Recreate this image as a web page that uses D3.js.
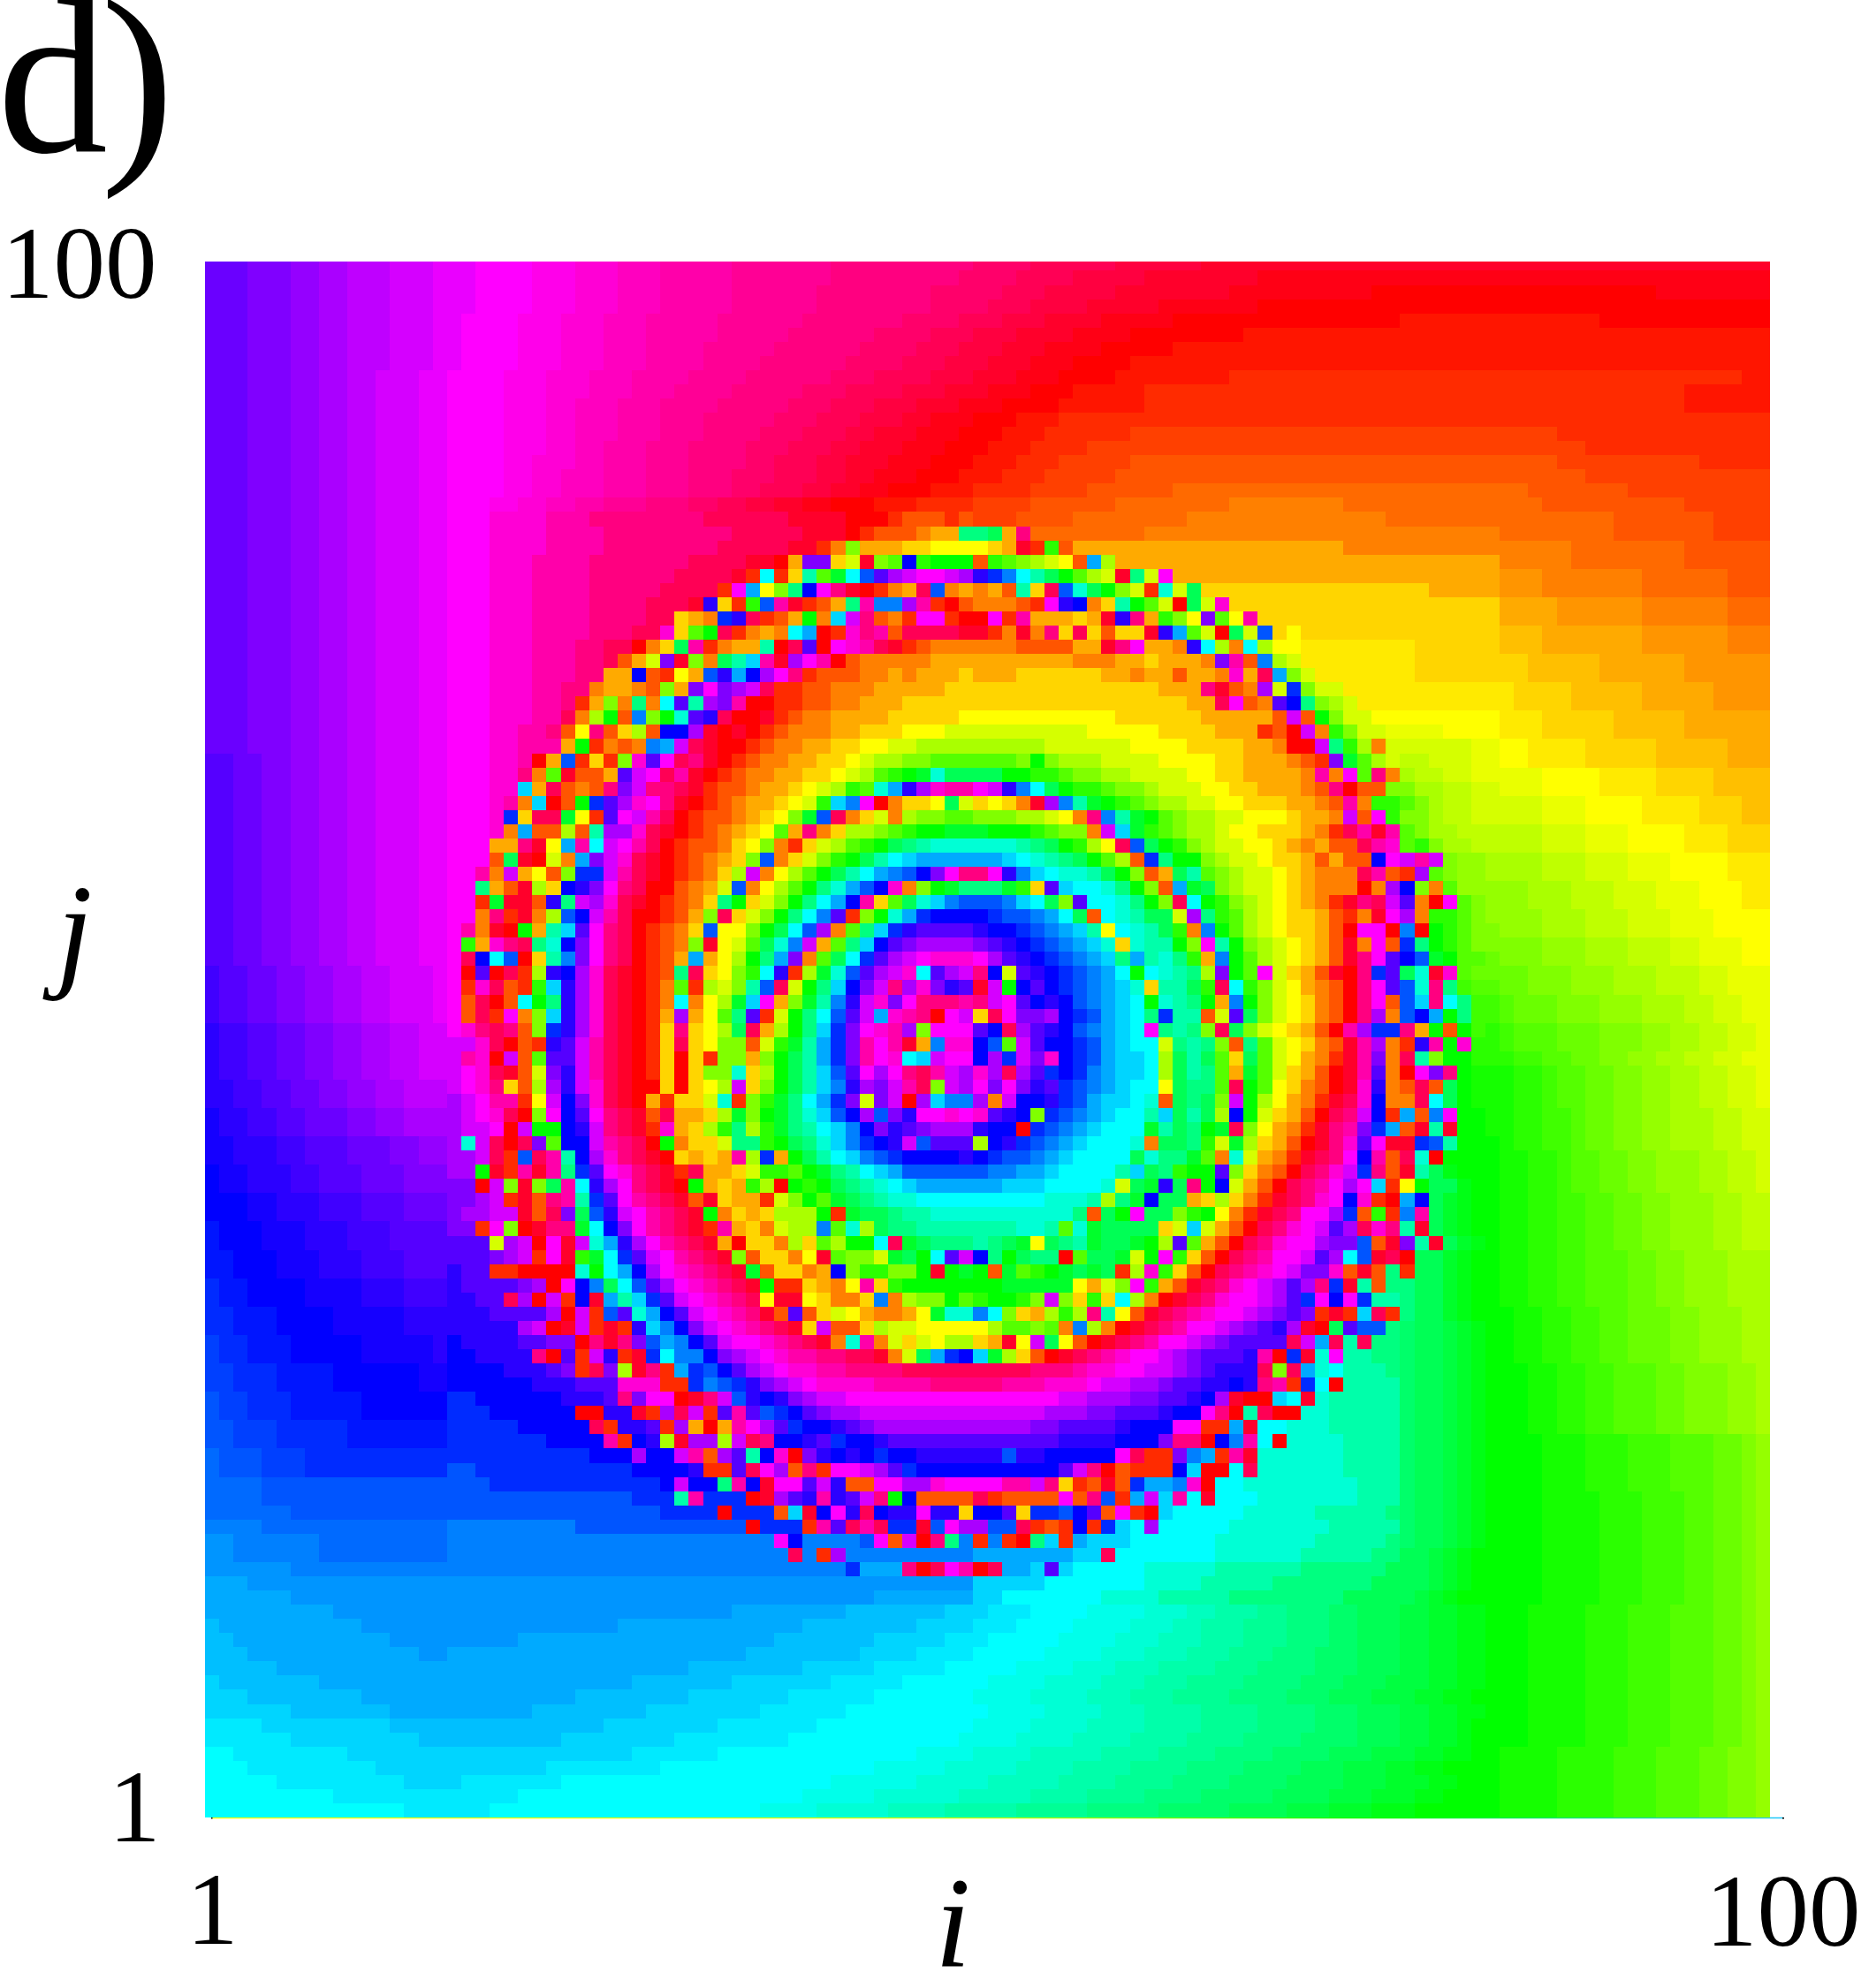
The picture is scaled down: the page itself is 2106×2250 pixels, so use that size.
<!DOCTYPE html>
<html><head><meta charset="utf-8">
<script src="https://cdnjs.cloudflare.com/ajax/libs/d3/7.8.5/d3.min.js"></script>
<style>html,body{margin:0;padding:0;background:#fff}svg{display:block}text{font-family:"Liberation Serif",serif;fill:#000}</style>
</head><body><svg id="c" width="2106" height="2250"></svg>
<script>
const panelLabel = "d)";
const xTickLabels = ["1","100"];
const yTickLabels = ["1","100"];
const xName = "i", yName = "j";
// Hue alphabet: position in this string x 5 degrees.
const hueAlphabet = "0A1B2C3D4E5F6G7H8I9JaKbLcMdNeOfPgQhRiSjTkUlVmWnXoYpZq!r@s#t$u%v^w&x(y)z+";
// Phase per cell, row by row from the top; "c*n" repeats c, sections are separated by spaces.
const hueRows = [
"!*3,r*3,@*2,s*2,#*3,t*3,$*3,u*4,%*3,v*3,^*3,w*5,&*7,x*10,(*4,y*6,)*6,z*40",
"!*3,r*3,@*2,s*2,#*3,t*3,$*3,u*4,%*3,v*3,^*3,w*5,&*7,x*9,(*4,y*4,)*5,z*8,+*36",
"!*3,r*3,@*2,s*2,#*3,t*3,$*3,u*4,%*3,v*3,^*3,w*5,&*6,x*8,(*5,y*3,)*5,z*8,+*10,0*20,+*8",
"!*3,r*3,@*2,s*2,#*3,t*3,$*3,u*4,%*3,v*3,^*3,w*5,&*6,x*8,(*4,y*3,)*4,z*5,+*7,0*36",
"!*3,r*3,@*2,s*2,#*3,t*3,$*2,u*4,%*3,v*3,^*3,w*5,&*6,x*7,(*4,y*3,)*3,z*4,+*5,0*16,A*14,0*12",
"!*3,r*3,@*2,s*2,#*3,t*3,$*2,u*4,%*3,v*3,^*3,w*5,&*5,x*6,(*4,y*3,)*3,z*4,+*4,0*8,A*37",
"!*3,r*3,@*2,s*2,#*3,t*3,$*2,u*4,%*3,v*3,^*3,w*4,&*5,x*6,(*4,y*3,)*3,z*3,+*4,0*5,A*42",
"!*3,r*3,@*2,s*2,#*3,t*3,$*2,u*4,%*3,v*3,^*3,w*4,&*4,x*6,(*4,y*3,)*3,z*3,+*3,0*4,A*6,A*39",
"!*3,r*3,@*2,s*2,#*2,t*3,$*2,u*4,%*3,v*3,^*3,w*4,&*4,x*6,(*3,y*4,)*3,z*3,+*3,0*4,A*8,1*36,A*2",
"!*3,r*3,@*2,s*2,#*2,t*3,$*2,u*4,%*3,v*3,^*3,w*3,&*4,x*5,(*3,y*4,)*3,z*3,+*3,0*3,A*5,1*38,A*6",
"!*3,r*3,@*2,s*2,#*2,t*3,$*2,u*4,%*3,v*2,^*3,w*3,&*4,x*5,(*3,y*3,)*3,z*3,+*3,0*4,A*6,1*38,A*6",
"!*3,r*3,@*2,s*2,#*2,t*3,$*2,u*4,%*3,v*2,^*3,w*3,&*3,x*5,(*3,y*3,)*3,z*2,+*3,0*3,A*3,1*50",
"!*3,r*3,@*2,s*2,#*2,t*3,$*2,u*4,%*3,v*2,^*3,w*3,&*3,x*4,(*3,y*3,)*2,z*3,+*3,0*3,A*3,1*6,B*30,1*15",
"!*3,r*3,@*2,s*2,#*2,t*3,$*2,u*4,%*3,v*2,^*2,w*3,&*3,x*4,(*3,y*3,)*2,z*3,+*3,0*3,A*3,1*4,B*35,1*13",
"!*3,r*3,@*2,s*2,#*2,t*3,$*2,u*4,%*2,v*3,^*2,w*3,&*3,x*4,(*2,y*3,)*2,z*3,+*3,0*3,A*3,1*3,B*5,2*30,B*10,1*5",
"!*3,r*3,@*2,s*2,#*2,t*3,$*2,u*4,%*2,v*2,^*3,w*3,&*3,x*3,(*3,y*3,)*2,z*2,+*3,0*3,A*3,1*3,B*5,2*33,B*13",
"!*3,r*3,@*2,s*2,#*2,t*3,$*2,u*4,%*2,v*2,^*3,w*3,&*3,x*3,(*2,y*3,)*2,z*2,+*2,0*3,A*3,1*4,B*4,2*6,C*25,2*7,B*10",
"!*3,r*3,@*2,s*2,#*2,t*3,$*2,u*3,%*2,v*2,^*2,w*2,&*3,x*3,(*2,y*2,)*2,z*2,+*2,0*3,A*3,1*4,B*4,2*6,C*8,3*8,C*14,2*10,B*6",
"!*3,r*3,@*2,s*2,#*2,t*3,$*2 u*3,v*4,w*3,x*8,y*6,z*4,000122212 B*3,2*4,C*8,3*14,C*8 C*8,2*7,B*4",
"!*3,r*3,@*2,s*2,#*2,t*3,$*2 u*3,v*4,w*4,x*9,y*5,z*3,01222344f fe4x,C*8,3*25 C*8,2*7,B*4",
"!*3,r*3,@*2,s*2,#*2,t*3,$*2 u*3,v*4,w*4,x*8,y*5,z*2,13944455666 654z1b244,4*17,3*11 3*5,C*8,2*6",
"!*3,r*3,@*2,s*2,#*2,t*3,$*2 u*3,v*3,w*4,x*7,y*4,z*2,04rr57z9aobccc 2ba98762k844,4*25 3*5,C*8,2*6",
"!*3,r*3,@*2,s*2,#*2,t*3,$*2 u*3,v*3,w*4,x*6,y*4,z*1,1i15gadimqstuuts pnligeca87zf7u4,4*22 D*3,3*7,C*6,2*3",
"!*3,r*3,@*2,s*2,#*2,t*3,$*2 u*3,v*3,w*4,x*5,y*4,1uk69fouxz0134ym34 342g5ymhec971h7e5,5*15,4*5 D*3,3*7,C*6,2*3",
"!*3,r*3,@*2,s*2,#*2,t*3,$*2 u*3,v*3,w*4,x*4,y*3,zp51bmwz124fwllsw102 33321upo35gca70e7v5,5*18 4*4,D*6,3*6,C*3",
"!*3,r*3,@*2,s*2,#*2,t*3,$*2 u*3,v*3,w*4,x*4,y*2,543npy124c3jtx231uu10 0u1w44454zpx4b96ra6w5,5*16 4*4,D*6,3*6,C*3",
"!*3,r*3,@*2,s*2,#*2,t*3,$*2 u*3,v*3,w*4,x*3,y*2,v5acy1343ik01vxw2yyyyz z13z3x5y5255zpka70e7m56,5*14 E*3,4*7,D*6,3*3",
"!*3,r*3,@*2,s*2,#*2,t*3,$*2 u*3,v*3,w*3,x*2,y*2,035ew1344g0yq0uvwyz12333 333222244zxu443pi83i866,F*8,5*6 E*3,4*7,D*6,3*3",
"!*3,r*3,@*2,s*2,#*2,t*3,$*2 u*3,v*3,w*3,x*2,y*1,247rz93egjwzsuw0233333444 4*6,4333,4454443rw2l87,F*8,5*6 5*2,E*5,4*6,D*6",
"!*3,r*3,@*2,s*2,#*2,t*3,$*2 u*3,v*3,w*3,x*2,44o2164mpkosux122233434445 444555555443442443v4yk97,F*7,5*6 5*2,E*5,4*6,D*6",
"!*3,r*3,@*2,s*2,#*2,t*3,$*2 u*3,v*3,w*2,x*2,3443294rursty11223334444455 5*13,444xz23s7n977,F*11 F*1,5*4,E*5,4*5,D*4",
"!*3,r*3,@*2,s*2,#*2,t*3,$*2 u*3,v*3,w*2,x,1493f3iqgsrw0011223344455555 5*15,44yu23qof987,F*10 F*1,5*4,E*5,4*5,D*4",
"!*3,r*3,@*2,s*2,#*2,t*3,$*2 u*3,v*3,w*2,y38c2l9chqpy00z12334444555556 6*10,5*6,444442t2c977,6*9 F*3,5*5,E*5,4*6",
"!*3,r*3,@*2,s*2,#*2,t*3,$*2 u*3,v*2,w*2,x26x2582oosz0z0123334455566677 7*8,6*5,5*4,444120t3b977,G*4,6*4 F*3,5*5,E*5,4*6",
"!*3,r*3,@*2,s*2,#*2,t*3,$*2 u*3,v*2,w,ww4c1323lktyz001233445566778888 8*5,7*6,6*4,5*4,44300tfb83,7*6,G*2 6*2,F*4,5*5,E*5,4*3",
"q*2,!*2,r*2,@*2,s*2,#*2,t*3,$*2 u*3,v*2,w,04m1519vquyxz012334455678899aaa aaa9c98887777666655444321rda87,HH777GG 6*2,F*4,5*5,E*5,4*3",
"q*2,!*2,r*2,@*2,s*2,#*2,t*3,$*2 u*3,v*2,x3az224qtuywz012334455678abcdhee eeccbba998877776655,4*4,3w3uax3,8HH77GG G*3,6*4,F*4,5*4,E*4",
"q*2,!*2,r*2,@*2,s*2,#*2,t*3,$*2 u*3,v*2,j4y232xrtxxyz1223445678bahkpsvww utpliecbba998777665544432x02299,88HH77 G*3,6*4,F*4,5*4,E*4",
"q*2,!*2,r*2,@*2,s*2,#*2,t*3,$*2 u*3,v,w3j02cnqsvuxz012344567bjlu03556e7 5653zslgdcba98877665554432w3bba9,8HH77 7*3,G*3,6*4,F*4,5*3,E*2",
"q*2,!*2,r*2,@*2,s*2,#*2,t*3,$*2 u*3,v,n5yyd61qutwy012234569dmy3573899aa 99988763xlgdca988776665443t2ub99,8HH77 7*3,G*3,6*4,F*4,5*3,E*2",
"q*2,!*2,r*2,@*2,s*2,#*2,t*3,$*2 u*3,v3k2282gssvyz0123456a4x35889abccdd dcccba993tjdba988766555431ywzwa9,88HHH H*3,7*3,G*3,6*4,F*3,5*3",
"q*2,!*2,r*2,@*2,s*2,#*2,t*3,$*2 u*3,44xz6kwituwy0122356931578abcefghhh hhhgfecb86ymecb987766543422ywvab9,88HH H*3,7*3,G*3,6*4,F*3,5*3",
"q*2,!*2,r*2,@*2,s*2,#*2,t*3,$*2 u*3,2ez073krtvyz0123459m3579bcegijkkkk kkjihgfeca82nfcc987765542422outwt9,II8 8*3,H*3,7*3,G*3,6*4,F*3",
"q*2,!*2,r*2,@*2,s*2,#*2,t*3,$*2 u*2,w3t4629nntwyz012358t368acegiklmorux xupljihhgec924ega9877654333yw21sa9,II8 8*3,H*3,7*3,G*3,6*4,F*3",
"q*2,!*2,r*2,@*2,s*2,#*2,t*3,$*2 u*2,f42z85opruxy002347m368acfhkmov39cdf ffdb5qjiihfc92kde987765433303so93a,III I*2,8*3,H*3,7*3,G*3,6*3,F*2",
"q*2,!*2,r*2,@*2,s*2,#*2,t*3,$*2 u*2,1dzz2pftsvyz01235fc579cfikow5aehjlm mmljie9qiihfc9yicb98765431zxytq30ua,9I I*2,8*3,H*3,7*3,G*3,6*3,F*2",
"q*2,!*2,r*2,@*2,s*2,#*2,t*3,$*2 u*2,3x1z38motwy001249y579cfilq19chknooo onmmlkie2ihgee7sfba876554213zus3bba,9I I*3,8*3,H*3,7*3,G*3,6*4",
"q*2,!*2,r*2,@*2,s*2,#*2,t*3,$*2 u,w3z0c4gjquxy01235m669ceims3afjnpqqqq poonmlkjg6ihgeb3lca87655420uu0l0cba99 I*3,8*3,H*3,7*3,G*3,6*4",
"q*2,!*2,r*2,@*2,s*2,#*2,t*3,$*2 u,b4vxyfhoruxy01239z67aehlt4afjoqrssss rqponmlkjh5hggc9ugc9876542z3u2nfcba99 9*3,I*3,8*3,H*3,7*2,G*3,6*2",
"q*2,!*2,r*2,@*2,s*2,#*2,t*3,$*2 u,yoim05glruxy0124k468cfkr3aeinqstuvvv usqponmlkjfkghfb4lca876542zxuqomdcaaJ 9*3,I*3,8*3,H*3,7*2,G*3,6*2",
"Z*1,q*2,!*2,r*2,@*2,s*2,#*2,t*3,$*1 u,0q0y18posvyz012fy569bip18dhmqstviqst xo7qponmlkicihgf8rcau7542z0xnqehzvaJJ J*2,9*3,I*3,8*3,H*3,7*2,G*3",
"Z*1,q*2,!*2,r*2,@*2,s*2,#*2,t*3,$*1 u,1vy21bjpsvyz013a1879gmy7cfjortxsvrpq ztcoqonmlkjh5ggebyib9764320xuqmhxfKaa J*2,9*3,I*3,8*3,H*3,7*2,G*3",
"Z*1,q*2,!*2,r*2,@*2,s*2,#*2,t*3,$*1 u,2y02icfpsvyz013i368dju49dglptvruxxxw xtuqopomlkjichgfc4lc9765320xu2mjxifKK a*1,J*3,9*3,I*3,8*3,H*2,7*2,G*2",
"Z*1,q*2,!*2,r*2,@*2,s*2,#*2,t*3,$*1 u,2y1u39jpsvyz014s46afq17cfimqtkvwx0ut 5yurrsonmkjifngg27qe9765320xs3mokcfKK a*1,J*3,9*3,I*3,8*3,H*2,7*2,G*2",
"p*1,Z*2,q*2,!*2,r*2,@*2,s*2,#*2,t*2 u,vxyx29npsvyz015x568ey48cfjnruvws9uuu qoysqpomlkjiufgf9ye9765420wsnnx4c2cKb K*1,a*3,J*3,9*3,I*2,8*2,H*2,7*2,G*1",
"p*1,Z*2,q*2,!*2,r*2,@*2,s*2,#*2,t*2 ttvy021pqt,wyz015y569,927bdgknrw,uwz4lvv omatqoonmk,jii7fgf92f,a76532zws3,1pwcvbb K*1,a*3,J*3,9*3,I*2,8*2,H*2,7*2,G*1",
"p*1,Z*2,q*2,!*2,r*2,@*2,s*2,#*2,t*2 twv0t2aqqt,wyz0150519,949cegknrw,uvijtuu osntrvonmk,jji8egea5e,a76431zwr3,yg9ccbb bKKaaJJ99II88HH77GG",
"p*1,Z*2,q*2,!*2,r*2,@*2,s*2,#*2,t*2 tuvyz27rpt,wyz0150599,h58cegjmqu,suxywts vsysqnonlk,jji8egfa4d,a75420zwq3,0urxcLL LbbKaaJJ99II88HH77G",
"p*2,Z*2,q*2,!*2,r*2,@*2,s*2,#*3 tuvx528spt,vyz0050568,t59cegjlps,rtwy9ts ururpqnmlk,jii6effayc,a65320zvp3,2y2ecLL LbbKaaJJ99II88HH77G",
"p*2,Z*2,q*2,!*2,r*2,@*2,s*2,#*3 stuww16tor,vyz041557h,19bdfiknr7,rt0sjll s3toopnmkj,jih2efe9tc,86431zyvo3,3yiecLL LbbKaaJJ99II88HH77G",
"Y*1,p*2,Z*2,q*2,!*3,r*2,@*2,s*3 stuvy09uoq,uxyz2y4458,d9cdfhjmos,mrpuuvu vqpo9nmlkj,iigjege8oc,75420yxto1,k2luccL LbbKKaJJ99II888HH77",
"Y*1,p*2,Z*2,q*2,!*3,r*2,@*2,s*3 sttu0tccop,txyz1v458b,f8bdfgijlo,rpqrsss poo0nmlkji,iidgefcdy9,6431zxwrnk,2zgzccL LbbKKaJJ99II888HH77",
"Y*2,p*3,Z*2,q*3,!*3,r*2,@*2 shty0yraoo,twxy0c3557,ffbcefhjln,optmqqq 8opnmlkjii,ih3eefb7d8,5420zxvquz,znmgccc LbbKKaJJ99II888HH77",
"Y*2,p*3,Z*2,q*3,!*3,r*2,@*2 ssty1mywgo,svxyz05454,w8n4cegijl,mnoooop onmmlkjiii,iehffda3h7,431zyxuow2,yh0cccc LLbbKaaJJ99III88HH7",
"o*1,Y*2,p*3,Z*2,q*3,!*3,r*3 sscz1wzwfn,quvxyz1y44,57bbacdfgi,jkmmmmm mllkkjiiii,gjefbccq95,320yxvtnx2,zgeMccc LLbbKaaJJ99III88HH7",
"o*1,Y*2,p*3,Z*2,q*3,!*3,r*3 rr0t9z9ewi,psuxyz0c45,4b80cbcefg,hijkkkk kkjjjiiiih,7edpexco74,20yxwusuj1,6ceeMcc LLbbKaaJJ99III88HH7",
"o*3,Y*2,p*3,Z*3,q*3,!*3 rrst1z2xwg,nquwxyz2z5,44179cadef,ghhiiii iiiiihhhg8,fdoee45853,1zyxvuov10,koedMcc LLbbKKaaJJ99III88HH",
"o*3,Y*2,p*3,Z*3,q*3,!*3 rssttz2yre,mptuwxyzc3,545888c1de,efgghhh hhhhhhhf2e,cuee9bc631,zyxuusn2b1,lwedMcc LLbbKKaaJJ99III88HH",
"X*1,o*3,Y*3,p*3,Z*3,q*4 rr1u90zxxd,ioruwxyz1w,453788lah8,effgggg ggghhgahde,eee57j7420,yxvutqsyvx,gzedMcc LLbbKKaaJJ99III88HH",
"X*1,o*3,Y*3,p*3,Z*3,q*4 qqq7st0uzt,hkpsuwxyz4,055385a8cc,iydefff gfed6efgde,edc8qa420y,xvuusrrm2z,rgzedMc LLbbKKaaJJ99III88HH",
"X*2,o*3,Y*3,p*3,Z*3,q*3 qqqrst1uzb,dinqtuwxyz,925536za99,7deciqt ofceff0aee,d7cub520yx,wuutqsimzy,0eedMcc LLbbKKaaaJJ99III888",
"X*2,o*3,Y*3,p*3,Z*3,q*3 pqq110000h,cikosuvwxy,zd25534o9b,b99czcd c2dabcdede,18vb520yxw,vutrrv2z2f,1eedMcc LLbbKKaaaJJ99III888",
"n*1,X*2,o*4,Y*4,p*3,Z*3 pqqqqrs0uo,leimqsuvwx,yzc115436w,5bccccc ccddddd647,9ub42zyxvu,tsqsxnzg2f,feedMcc LLbbKKaaaJJ99III888",
"n*1,X*2,o*4,Y*4,p*3,Z*3 ppqqys0t1o,zkgjnqtuvw,xy6zz65335,l3899ca bccb9t95b5,i830zyxvuu,tsqnuoungg,feedMcc LLbbKKaaaJJ99III888",
"n*2,X*3,o*4,Y*5,p*3 pppqqqqs0t,1mqhkoqtuv,wxz2q25764,3346dhh li9548b8xg,62zyxwvuut,srqr1z1jy1,feedMcc cLLbbKKaaJJJ99III88",
"n*2,X*3,o*4,Y*5,p*3 pppppst0zt,1z1pjlortu,vwxyz5t225,8776666 68aa9a3l83,0zyxwuutsr,qpsz0eqmmf,OeeNdMc cLLbbKKaaJJJ99III88",
"W*1,n*2,X*3,o*5,Y*5,p*1 oppppqqrr0,xzxrmkloqt,uuvwxyz3hw,3757688 54z6te620z,yxwuutsrqq,qqytkygyff,OeeNdMc cLLbbKKaaJJJ99III88",
"W*1,n*2,X*3,o*5,Y*5,p*1 ooppppx0q1,tp1znillor,stuvwwxxyy,z37ekno jd8520zyxw,vuutsrqqqp,w0nzhuggff,OeeNdMc cLLbbKKaaJJJ99III88",
"W*2,n*3,X*4,o*6,Y*2 oooopppqr1,yr8zx1knmo,qstuvvwwxx,xxyyyyy yyyyxxxwvv,uuttsrqppp,y9ykhigggf,OeeNdMc ccLLbbKKaaaJJ999II8",
"W*2,n*3,X*4,o*6,Y*2 oooooopppq,qqvvv11nlm,nprstuvvvv,wwwwxxx xxwwwvvvut,tssrqqppop,xw1ni0gggg,OeeNdMc ccLLbbKKaaaJJ999II8",
"m*1,W*2,n*3,X*5,o*6 nnoooooopp,pqxruu0zxt,mpoprsttuu,uuuuuuu uuuuuuttss,srrqqposz0,0jizhggggg,OeeNdMc ccLLbbKKaaaJJ999II8",
"m*1,W*2,n*3,X*5,o*6 nnnoooooo0,0ppz1syt1q,wqmnoqrsst,ttttttt tttttsssrr,qqqpooux0g,y00hhggggg,OeeNdMc ccLLbbKKaaaJJ999II8",
"m*2,W*3,n*5,X*7 nnnnnooooo,y1ppq1s404,wusqnoopqr,sssssss ssssrrqqqq,pooouu11kz,iihhhggggg,OeeNdMc ccLLbbKKaaaJJ999II8",
"m*2,W*3,n*5,X*7 nnnnnnnooo,ow1op8zss8,tyxoopqnoo,pqqqqqq qqqqqqpppp,ooorxx0olw,i0hhhhgggg,OeeNdMc cccLLLbbbKKKaaaJJ9I",
"V*1,m*3,W*3,n*10 nnnnnnnnnn,ooosootw2s,qgov0rpopo,noopppp ppmppooooo,uy11rlk1wz,hhhhhhgggg,OeeNdMc cccLLLbbbKKKaaaJJ9I",
"V*1,m*3,W*3,n*10 mmnnnnnnnn,nnnoooop11,qyus2x1uut,sqnoooo ooooooqtx0,2111oj00iy,hhhhhhgggg,OeeNdMc cccLLLbbbKKKaaaJJ9I",
"V*4,m*13 m*3,n*12,o,toofwozuu,qtp22uussvuu uuwwtx512z,2nkklv0iih,hhhhhhhggg,OeeNdMc cccLLLbbbKKKaaaJJ9I",
"V*4,m*13 m*13,n*3,gwnnn0zsqpwpqtxco2222 y12222u2xm,1ktjwiziii,hhhhhhhggg,OeeNdMc cccLLLLbbbKKKaaJJ9I",
"V*6,m*11 m*15,n*4,0nnn2jzoupyoppupp5 ooq5nnmoq2,u10jiiiiih,hhhhgggggf,OeeNdMc cccLLLLbbbKKKaaJJ9I",
"l*4,V*13 l*9,m*12,0nnn1wqywynnzmus smmy121o1n,jisiiiiihh,hhhhhggggg,OeeNdMc cccLLLLbbbKKKaaJJ9I",
"U*2,l*6,V*9 l*23,uo,l*4,mu2t0xfl 1l10fj1kjj,jiiiiiihhh,hhhhgggggf,OeeNdMc cccLLLLbbbKKKaaJJ9I",
"U*2,l*6,V*9 l*24,yl1s,l*9 kkkkkkkjjy,iiiiiiihhh,hhhgggggff,eeNdMcc cccLLLLbbbKKKaaJJ9I",
"U*6,l*11 l*28,nkkk,x0yuw 0ykkjqjiii,iihhhhhggg,gggffffffe,eeNdMcc cccLLLLbbbKKKaaJJ9I",
"k*3,U*14 U*37 jjjjjiiiii,iihhhhgggg,gfffffffee,eeNdMcc cccLLLLbbbKKKaaJJ9I",
"k*6,U*11 U*30,k*7 jjiiiiiiih,hhhgggggff,ffffffeeee,eNdMccc cccLLLLbbbKKKaaJJ9I",
"k*9,U*8 U*20,k*8,T*7,j*3,S*3,i*4,R*4,h*3,Q*2,g*3,P*2,f*3,O*2,e*3,N*2,d*2,M*2,c*1 ccLLLLbbbKKKaaaJJ9I",
"T*1,k*10,U*6 U*12,k*13,T*8,j*4,S*3,i*4,R*4,h*3,Q*2,g*3,P*3,f*3,O*2,e*3,N*2,d*2,M*2,c*1 ccLLLLbbbKKKaaaJJ9I",
"T*2,k*11,U*4 U*5,k*18,T*7,j*5,S*3,i*5,R*4,h*3,Q*3,g*3,P*3,f*3,O*2,e*3,N*2,d*2,M*2,c*1 ccLLLLbbbKKKaaaJJ9I",
"T*3,k*12,U*2 k*21,T*8,j*4,S*4,i*5,R*4,h*3,Q*3,g*3,P*3,f*3,O*3,e*3,N*2,d*2,M*2,c*1 ccLLLLbbbKKKaaaJJ9I",
"T*5,k*12 k*17,T*8,j*5,S*5,i*5,R*4,h*3,Q*3,g*4,P*3,f*4,O*3,e*3,N*2,d*2,M*2,c*1 ccLLLLbbbKKKaaaJJ9I",
"j*1,T*7,k*9 k*13,T*7,j*7,S*5,i*6,R*4,h*4,Q*3,g*3,P*4,f*4,O*3,e*3,N*3,d*2,M*2,c*1 ccLLLLbbbKKKaaaJJ9I",
"j*3,T*8,k*6 k*9,T*8,j*7,S*6,i*7,R*4,h*4,Q*3,g*3,P*4,f*4,O*3,e*3,N*3,d*2,M*2,c*2 ccLLLLbbbKKKaaaJJ9I",
"j*6,T*7,k*4 k*6,T*8,j*8,S*6,i*10,R*4,h*4,Q*3,g*4,P*4,f*4,O*3,e*3,N*2,d*2,M*2,c*1 ccLLLLbbbKKKaaaJJ9I",
"S*4,j*9,T*4 T*11,j*8,S*7,i*11,R*4,h*4,Q*4,g*4,P*4,f*4,O*3,e*3,N*2,d*2,M*1,c*2 ccLLLLbbbKKKaaaJJ9I",
"S*6,j*9,T*2 T*8,j*8,S*8,i*12,R*4,h*4,Q*4,g*4,P*4,f*4,O*4,e*3,N*2,d*2,M*1,c*2 ccLLLLbbbKKKaaaJJ9I",
"i*2,S*8,j*7 j*13,S*6,i*14,R*4,h*4,Q*5,g*4,P*4,f*4,O*4,e*3,N*3,d*2,M*2,c*2 LLLLbbbbKKKaaaJJ99I",
"i*3,S*9,j*5 j*7,S*8,i*15,R*5,h*5,Q*4,g*4,P*4,f*4,O*4,e*3,N*3,d*2,M*2,c*4 LLLLbbbbKKKaaaJJ99I",
"i*5,S*9,j*3 j*1,S*7,i*19,R*6,h*5,Q*5,g*4,P*4,f*4,O*4,e*4,N*3,d*3,M*2,c*3 LLLLbbbbKKKaaaJJ99I",
"i*9,S*8 S*5,i*20,R*5,h*6,Q*5,g*4,P*4,f*4,O*5,e*4,N*3,d*3,M*2,c*4 LLLLbbbbKKKaaaJJ99I",
"i*14,S*3 S*3,i*19,R*4,h*5,Q*4,g*5,P*5,f*5,O*5,e*4,N*3,d*3,M*3,c*6 LLLLbbbbKKKaaaJJ99I"
];
const sectionWidths = {1:[110],3:[17,74,19],4:[17,37,37,19]};
const decode = s => s.replace(/(.)\*(\d+)/g,(m,c,n)=>c.repeat(+n)).replace(/,/g,'');
const fit = (s,w) => s.length>=w ? s.slice(0,w) : s.padEnd(w,s[s.length-1]);
const problems = [];
function rowCodes(str,r){
  const parts = str.split(' ').map(decode);
  const widths = sectionWidths[parts.length];
  parts.forEach((p,i)=>{ if(!widths||p.length!==widths[i]) problems.push(r+':'+i+'='+p.length); });
  return parts.map((p,i)=>fit(p,widths?widths[i]:p.length)).join('');
}
const grid = hueRows.map(rowCodes);

const svg = d3.select('#c');
const x = d3.scaleBand().domain(d3.range(110)).range([232,2003]);
const y = d3.scaleBand().domain(d3.range(110)).range([290.4,2057]);
const hue = d3.scaleLinear().domain([0,hueAlphabet.length]).range([0,360]);
const colour = ch => d3.hsl(hue(Math.max(0,hueAlphabet.indexOf(ch))),1,.5).formatHex();

const defs = svg.append('defs');
defs.append('clipPath').attr('id','plot').append('rect').attr('x',232).attr('y',296).attr('width',1771).attr('height',1761);
const grad = defs.append('linearGradient').attr('id','axisGrad').attr('gradientUnits','userSpaceOnUse').attr('x1',240).attr('x2',2018).attr('y1',0).attr('y2',0);
[[0,'#ffff00'],[.5,'#c8ff00'],[.75,'#00ff00'],[1,'#20c8ff']].forEach(s=>grad.append('stop').attr('offset',s[0]).attr('stop-color',s[1]));

svg.append('line').attr('x1',240).attr('x2',2018).attr('y1',2057.5).attr('y2',2057.5).attr('stroke','url(#axisGrad)').attr('stroke-width',1.5);
svg.append('rect').attr('x',239).attr('y',2057).attr('width',1.5).attr('height',1.5).attr('fill','#000');
svg.append('rect').attr('x',2017).attr('y',2057).attr('width',2).attr('height',1.5).attr('fill','#000');

const cells = grid.flatMap((row,r)=>Array.from(row,(ch,c)=>({r,c,ch})));
svg.append('g').attr('clip-path','url(#plot)').attr('shape-rendering','crispEdges')
  .selectAll('rect').data(cells).join('rect')
  .attr('x',d=>x(d.c)).attr('y',d=>y(d.r))
  .attr('width',x.bandwidth()+.6).attr('height',y.bandwidth()+.6)
  .attr('fill',d=>colour(d.ch));

const label=(t,px,py,size,italic)=>svg.append('text').attr('x',px).attr('y',py).attr('font-size',size).attr('font-style',italic?'italic':'normal').text(t);
label(panelLabel,-3,172,250).attr('letter-spacing',-8);
label(yTickLabels[1],2,337,117);
label(yTickLabels[0],123,2084,117);
label(xTickLabels[0],211,2200,117);
label(xTickLabels[1],1930,2202,117);
label(yName,64,1102,146,true);
label(xName,1058,2225,146,true);
if(problems.length) svg.append('text').attr('x',260).attr('y',60).attr('font-size',26).text(problems.join(' '));
</script></body></html>
